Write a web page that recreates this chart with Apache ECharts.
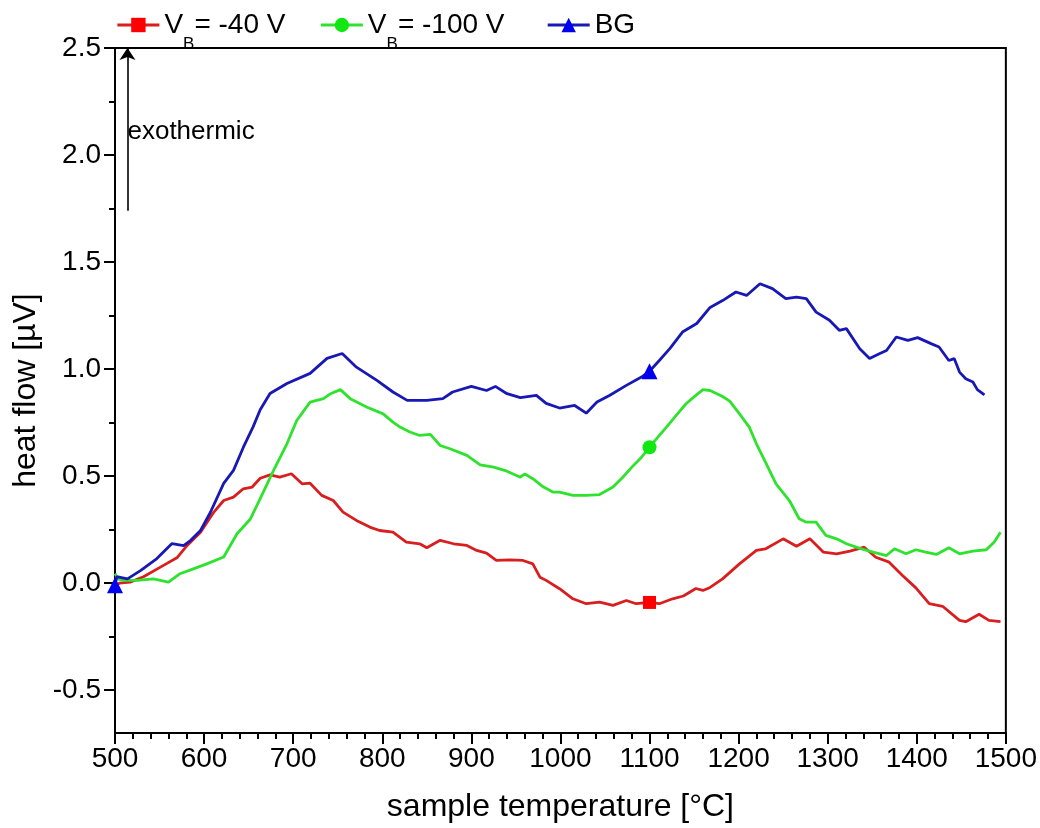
<!DOCTYPE html>
<html>
<head>
<meta charset="utf-8">
<script src="https://cdn.jsdelivr.net/npm/echarts@6/dist/echarts.min.js"></script>
<style>
html,body{margin:0;padding:0;background:#fff;}
#chart{width:1040px;height:828px;}
</style>
</head>
<body>
<div id="chart"></div>
<script>
// ---- data ----
const tempsRed = [500,505,517,532,551,570,581,596,611,622,633,644,654,663,674,685,698,710,719,732,745,756,771,786,797,812,827,842,850,865,880,895,906,917,928,943,958,969,977,984,999,1014,1029,1044,1059,1074,1085,1100,1111,1126,1138,1152,1160,1168,1182,1201,1220,1230,1250,1265,1280,1295,1310,1325,1341,1354,1369,1384,1399,1414,1429,1448,1455,1470,1481,1494];
const heatRed  = [-0.01,0.0,0.005,0.03,0.075,0.12,0.176,0.238,0.332,0.386,0.402,0.441,0.449,0.49,0.506,0.495,0.511,0.464,0.467,0.41,0.386,0.332,0.293,0.262,0.246,0.238,0.192,0.184,0.165,0.2,0.184,0.176,0.153,0.14,0.106,0.109,0.106,0.09,0.028,0.013,-0.026,-0.073,-0.096,-0.089,-0.104,-0.081,-0.096,-0.09,-0.096,-0.073,-0.06,-0.025,-0.034,-0.02,0.02,0.09,0.153,0.16,0.207,0.172,0.207,0.145,0.137,0.15,0.168,0.121,0.098,0.036,-0.022,-0.096,-0.108,-0.174,-0.18,-0.145,-0.174,-0.18];

const tempsGreen = [500,503,510,525,543,560,573,588,603,622,637,652,663,678,693,704,719,734,742,753,764,783,801,812,820,831,842,854,865,876,895,910,925,940,955,960,969,981,992,999,1014,1029,1044,1059,1070,1082,1090,1100,1108,1119,1130,1141,1152,1160,1168,1182,1190,1201,1212,1220,1231,1242,1257,1268,1276,1287,1298,1310,1321,1332,1340,1351,1366,1375,1388,1399,1410,1422,1436,1448,1463,1478,1487,1494];
const heatGreen  = [0.045,0.02,0.013,0.013,0.02,0.005,0.044,0.067,0.09,0.122,0.231,0.3,0.395,0.527,0.651,0.76,0.846,0.862,0.885,0.904,0.862,0.822,0.791,0.752,0.729,0.706,0.69,0.695,0.643,0.628,0.597,0.553,0.542,0.523,0.495,0.51,0.488,0.449,0.425,0.425,0.41,0.41,0.414,0.449,0.495,0.55,0.583,0.635,0.675,0.729,0.784,0.838,0.877,0.904,0.9,0.872,0.85,0.791,0.729,0.651,0.558,0.464,0.386,0.301,0.285,0.285,0.223,0.207,0.184,0.168,0.158,0.145,0.129,0.161,0.137,0.156,0.145,0.134,0.165,0.137,0.15,0.156,0.192,0.238];

const tempsBlue = [500,502,514,529,547,564,577,585,596,607,622,633,644,655,663,674,693,719,738,755,771,794,812,828,850,868,879,900,917,927,940,955,973,984,999,1016,1029,1041,1055,1074,1091,1100,1111,1123,1137,1153,1168,1182,1197,1209,1224,1238,1253,1265,1276,1287,1302,1313,1321,1336,1347,1358,1366,1377,1390,1401,1416,1425,1436,1442,1448,1455,1463,1468,1476];
const heatBlue  = [-0.01,0.03,0.02,0.06,0.115,0.185,0.175,0.2,0.246,0.33,0.466,0.527,0.634,0.73,0.81,0.886,0.933,0.98,1.05,1.073,1.009,0.947,0.893,0.854,0.854,0.862,0.893,0.919,0.9,0.919,0.885,0.867,0.877,0.84,0.818,0.83,0.794,0.846,0.877,0.924,0.963,0.99,1.04,1.097,1.173,1.213,1.288,1.32,1.36,1.344,1.399,1.376,1.329,1.336,1.329,1.266,1.228,1.181,1.189,1.095,1.049,1.072,1.087,1.15,1.134,1.147,1.119,1.103,1.04,1.049,0.986,0.955,0.94,0.904,0.88];

const markerTempsRed = [1100];
const markerTempsGreen = [1100];
const markerTempsBlue = [500, 1100];
const seriesNames = ['-40 V', '-100 V', 'BG'];
const yLabels = [-0.5,0,0.5,1,1.5,2,2.5];
const yMinor = [-0.5,-0.25,0,0.25,0.5,0.75,1,1.25,1.5,1.75,2,2.25,2.5];

const FONT = "'Liberation Sans',Arial,sans-serif";

function build(temps, vals, marks){
  return temps.map((t,i)=> marks.indexOf(t) >= 0 ? [t, vals[i]] : {value:[t, vals[i]], symbol:'none'});
}

const chart = echarts.init(document.getElementById('chart'), null, {renderer:'canvas'});

const rich = {
  n:{fontFamily:FONT, fontSize:28, color:'#000'},
  s:{fontFamily:FONT, fontSize:17, color:'#000', verticalAlign:'bottom', padding:[0,0,-14,0]},
  gap:{fontFamily:FONT, fontSize:28, width:16}
};

chart.setOption({
  animation:false,
  backgroundColor:'#fff',
  grid:{left:115, right:34, top:48, bottom:95, show:true, borderColor:'#000', borderWidth:2, backgroundColor:'transparent'},
  legend:{
    left:116, top:6, padding:[5,0,5,0], itemWidth:42, itemHeight:18, itemGap:34,
    data: seriesNames,
    lineStyle:{width:2.8},
    textStyle:{rich:rich, fontFamily:FONT, fontSize:28, color:'#000'},
    formatter: function(name){
      if (name === 'BG') return '{n|BG}';
      if (name === '-100 V') return '{n|V}{s|B}{n|= ' + name + '}{gap| }';
      return '{n|V}{s|B}{n|= ' + name + '}';
    }
  },
  xAxis:{
    type:'value', min:500, max:1500, interval:100,
    axisLine:{show:true, onZero:false, lineStyle:{color:'#000', width:2}},
    axisTick:{show:true, inside:false, length:11, lineStyle:{color:'#000', width:2}},
    minorTick:{show:true, splitNumber:5, length:6, lineStyle:{color:'#000', width:2}},
    splitLine:{show:false},
    axisLabel:{margin:12, fontFamily:FONT, fontSize:28, color:'#000', formatter:function(v){return String(v);}},
    name:'sample temperature [°C]', nameLocation:'middle', nameGap:58,
    nameTextStyle:{fontFamily:FONT, fontSize:32, color:'#000'}
  },
  yAxis:[{
    type:'value', min:-0.7, max:2.5,
    axisLine:{show:true, onZero:false, lineStyle:{color:'#000', width:2}},
    axisTick:{show:true, inside:false, length:11, customValues: yLabels, lineStyle:{color:'#000', width:2}},
    splitLine:{show:false},
    axisLabel:{margin:14, fontFamily:FONT, fontSize:28, color:'#000', customValues: yLabels,
      formatter:function(v){ return v.toFixed(1); }},
    name:'heat flow [\u00b5V]', nameLocation:'middle', nameGap:70,
    nameTextStyle:{fontFamily:FONT, fontSize:32, color:'#000'}
  },{
    type:'value', min:-0.7, max:2.5, position:'left',
    axisLine:{show:false, onZero:false},
    axisTick:{show:true, inside:false, length:6, customValues: yMinor, lineStyle:{color:'#000', width:2}},
    axisLabel:{show:false},
    splitLine:{show:false}
  }],
  series:[
    {
      name:seriesNames[0], type:'line', data:build(tempsRed, heatRed, markerTempsRed),
      symbol:'rect', symbolSize:13, showSymbol:true, showAllSymbol:true,
      lineStyle:{color:'#d81e1e', width:2.8}, itemStyle:{color:'#ff0000'}, color:'#e01010', z:2
    },
    {
      name:seriesNames[1], type:'line', data:build(tempsGreen, heatGreen, markerTempsGreen),
      symbol:'circle', symbolSize:14, showSymbol:true, showAllSymbol:true,
      lineStyle:{color:'#2ee22e', width:2.8}, itemStyle:{color:'#11e811'}, color:'#22e622', z:3
    },
    {
      name:seriesNames[2], type:'line', data:build(tempsBlue, heatBlue, markerTempsBlue),
      symbol:'triangle', symbolSize:16, showSymbol:true, showAllSymbol:true,
      lineStyle:{color:'#1818b4', width:2.8}, itemStyle:{color:'#0000f0'}, color:'#1010c8', z:4,
      markLine:{
        silent:true, symbol:['none','arrow'], symbolSize:12,
        lineStyle:{color:'#000', width:1.6, type:'solid'}, label:{show:false},
        data:[[{coord:[514,1.74]},{coord:[514,2.5]}]]
      },
      markPoint:{
        silent:true, symbol:'circle', symbolSize:0,
        label:{show:true, position:'right', distance:0, formatter:'exothermic', fontFamily:FONT, fontSize:26, color:'#000'},
        data:[{coord:[514,2.11]}]
      }
    }
  ]
});
</script>
</body>
</html>
